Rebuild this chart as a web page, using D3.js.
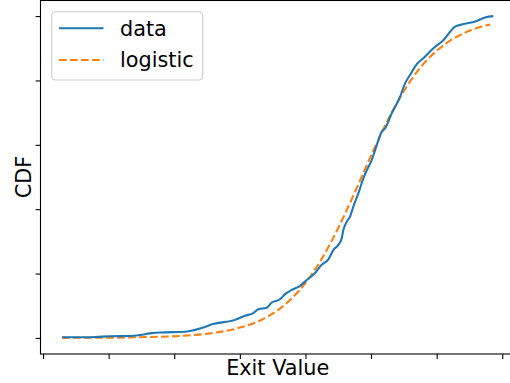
<!DOCTYPE html>
<html>
<head>
<meta charset="utf-8">
<script src="https://cdn.jsdelivr.net/npm/d3@7"></script>
<style>
  html, body { margin: 0; padding: 0; background: #fff; }
  svg { display: block; }
  text { font-family: "DejaVu Sans", sans-serif; fill: #000; }
</style>
</head>
<body>
<svg id="chart" width="510" height="383"></svg>
<script>
// Empirical CDF of exit values
const dataX = [0.29, 0.564, 0.793, 1.021, 1.326, 1.479, 1.631, 1.784, 2.165, 2.317, 2.47, 2.591,
  2.927, 3.079, 3.206, 3.282, 3.41, 3.486, 3.613, 3.689, 3.791, 3.918, 4.02, 4.12, 4.248, 4.349,
  4.425, 4.502, 4.553, 4.578, 4.63, 4.68, 4.73, 4.806, 4.883, 4.924, 5.011, 5.087, 5.163, 5.213,
  5.316, 5.442, 5.518, 5.595, 5.697, 5.797, 5.95, 6.102, 6.28, 6.383, 6.509, 6.611, 6.738, 6.864];
const dataY = [0.002, 0.002, 0.003, 0.005, 0.006, 0.009, 0.014, 0.017, 0.019, 0.025, 0.034, 0.043,
  0.056, 0.069, 0.077, 0.089, 0.094, 0.11, 0.12, 0.136, 0.149, 0.162, 0.18, 0.196, 0.227, 0.244,
  0.273, 0.289, 0.31, 0.335, 0.361, 0.377, 0.408, 0.449, 0.496, 0.516, 0.553, 0.599, 0.641, 0.651,
  0.698, 0.749, 0.791, 0.817, 0.851, 0.869, 0.9, 0.925, 0.967, 0.974, 0.979, 0.985, 0.996, 1.0];

// Fitted logistic CDF
const fitX = [0.29, 0.716, 1.174, 1.631, 2.088, 2.546, 3.003, 3.308, 3.46, 3.613, 3.765, 3.918,
  4.07, 4.223, 4.375, 4.527, 4.68, 4.832, 4.985, 5.137, 5.29, 5.442, 5.595, 5.747, 5.899, 6.052,
  6.204, 6.357, 6.509, 6.662, 6.814];
const fitY = [0.0002, 0.0005, 0.001, 0.003, 0.006, 0.014, 0.032, 0.054, 0.071, 0.091, 0.118, 0.15,
  0.19, 0.237, 0.292, 0.353, 0.42, 0.489, 0.56, 0.627, 0.691, 0.747, 0.797, 0.839, 0.873, 0.901,
  0.924, 0.941, 0.955, 0.966, 0.974];

const xTicks = [0, 1, 2, 3, 4, 5, 6, 7];
const yTicks = [0, 0.2, 0.4, 0.6, 0.8, 1.0];
const seriesNames = ["data", "logistic"];

const BLUE = "#1f77b4", ORANGE = "#ff7f0e";
const LW = 2.08;

const svg = d3.select("#chart");
const plot = { left: 40.5, right: 514.9, top: 0, bottom: 354 };

// matplotlib-style 5% margins around the data extent
const xMin = d3.min(dataX.concat(fitX)), xMax = d3.max(dataX.concat(fitX));
const xPad = (xMax - xMin) * 0.05;
const x = d3.scaleLinear().domain([xMin - xPad, xMax + xPad]).range([plot.left, plot.right]);
const y = d3.scaleLinear().domain([-0.05, 1.05]).range([plot.bottom, plot.top]);

const clip = svg.append("clipPath").attr("id", "plotclip").append("rect")
  .attr("x", plot.left).attr("y", plot.top)
  .attr("width", plot.right - plot.left).attr("height", plot.bottom - plot.top);

const g = svg.append("g").attr("clip-path", "url(#plotclip)");

const line = d3.line().x(d => x(d[0])).y(d => y(d[1]));

g.append("path")
  .datum(fitX.map((v, i) => [v, fitY[i]]))
  .attr("d", line.curve(d3.curveMonotoneX))
  .attr("fill", "none").attr("stroke", ORANGE).attr("stroke-width", LW)
  .attr("stroke-dasharray", "7.7,3.3");

g.append("path")
  .datum(dataX.map((v, i) => [v, dataY[i]]))
  .attr("d", d3.line().x(d => x(d[0])).y(d => y(d[1])).curve(d3.curveMonotoneX))
  .attr("fill", "none").attr("stroke", BLUE).attr("stroke-width", LW)
  .attr("stroke-linejoin", "round");

// Axes: ticks only, no tick labels
const xAxis = svg.append("g").attr("transform", `translate(0,${plot.bottom})`)
  .call(d3.axisBottom(x).tickValues(xTicks).tickSize(4.9).tickFormat(""));
const yAxis = svg.append("g").attr("transform", `translate(${plot.left},0)`)
  .call(d3.axisLeft(y).tickValues(yTicks).tickSize(4.9).tickFormat(""));
[xAxis, yAxis].forEach(a => {
  a.select(".domain").remove();
  a.selectAll(".tick line").attr("stroke", "#000").attr("stroke-width", 1.1);
});

// Spines
svg.append("rect")
  .attr("x", plot.left).attr("y", plot.top + 0.5)
  .attr("width", plot.right - plot.left).attr("height", plot.bottom - plot.top - 0.5)
  .attr("fill", "none").attr("stroke", "#000").attr("stroke-width", 1.1);

// Axis labels
svg.append("text")
  .attr("x", (plot.left + plot.right) / 2).attr("y", 375)
  .attr("text-anchor", "middle").attr("font-size", 20.8)
  .text("Exit Value");
svg.append("text")
  .attr("transform", "translate(31,177) rotate(-90)")
  .attr("text-anchor", "middle").attr("font-size", 20.8)
  .text("CDF");

// Legend
const legend = svg.append("g");
legend.append("rect")
  .attr("x", 51.7).attr("y", 11.7).attr("width", 151).attr("height", 68.3)
  .attr("rx", 4).attr("fill", "#fff").attr("fill-opacity", 0.8)
  .attr("stroke", "#cccccc").attr("stroke-width", 1.1);
const legendRows = [
  { name: seriesNames[0], color: BLUE, dash: null, y: 28.3, base: 36 },
  { name: seriesNames[1], color: ORANGE, dash: "7.7,3.3", y: 60, base: 67 }
];
legendRows.forEach(r => {
  legend.append("line")
    .attr("x1", 59).attr("x2", 103.5).attr("y1", r.y).attr("y2", r.y)
    .attr("stroke", r.color).attr("stroke-width", LW)
    .attr("stroke-dasharray", r.dash);
  legend.append("text")
    .attr("x", 120).attr("y", r.base).attr("font-size", 20.8)
    .text(r.name);
});
</script>
</body>
</html>
